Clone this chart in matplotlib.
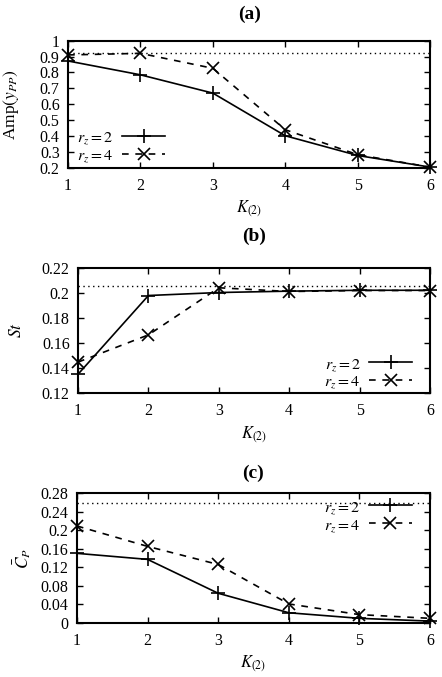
import matplotlib
matplotlib.use('Agg')
import matplotlib.pyplot as plt
from matplotlib.ticker import FormatStrFormatter, MultipleLocator

plt.rcParams['font.family'] = ['Liberation Serif', 'DejaVu Serif']
plt.rcParams['mathtext.fontset'] = 'stix'
plt.rcParams['font.size'] = 11.5

# DATA
k = [1, 2, 3, 4, 5, 6]

amp_rz2 = [0.872, 0.785, 0.670, 0.402, 0.278, 0.205]
amp_rz4 = [0.910, 0.920, 0.826, 0.440, 0.283, 0.205]
amp_ref = 0.925

st_rz2 = [0.135, 0.198, 0.2004, 0.2015, 0.2022, 0.2022]
st_rz4 = [0.1447, 0.1665, 0.2042, 0.2012, 0.2020, 0.2020]
st_ref = 0.2053

cp_rz2 = [0.150, 0.137, 0.064, 0.022, 0.010, 0.004]
cp_rz4 = [0.209, 0.165, 0.126, 0.041, 0.018, 0.010]
cp_ref = 0.258

titles = ['(a)', '(b)', '(c)']
ylabels = [r'Amp$(y_{PP})$', r'$St$', r'$\bar{C}_P$']
legend_labels = [r'$r_z = 2$', r'$r_z = 4$']


def panel(ax, y2, y4, ref, ylim, ystep, title, title_y, ylabel, legloc, legpos):
    ax.plot(k, y2, color='black', lw=1.2, marker='+', ms=10, mew=1.2,
            clip_on=False, zorder=3, label=legend_labels[0])
    ax.plot(k, y4, color='black', lw=1.2, ls=(0, (4, 4)), marker='x', ms=9,
            mew=1.2, clip_on=False, zorder=3, label=legend_labels[1])
    ax.axhline(ref, color='black', lw=1.0, ls=(0, (1, 2.5)), zorder=2)
    ax.set_xlim(1, 6)
    ax.set_ylim(*ylim)
    ax.xaxis.set_major_locator(MultipleLocator(1))
    ax.yaxis.set_major_locator(MultipleLocator(ystep))
    ax.yaxis.set_major_formatter(FormatStrFormatter('%g'))
    ax.tick_params(direction='in', top=True, right=True, length=4, width=1,
                   labelsize=11.5)
    ax.tick_params(axis='y', pad=6)
    ax.tick_params(axis='x', pad=7)
    for s in ax.spines.values():
        s.set_linewidth(1.5)
    ax.text(0.5, title_y, title, transform=ax.transAxes, ha='center',
            va='center', fontweight='bold', fontsize=14)
    ax.set_xlabel(r'$K_{(2)}$', fontsize=12, labelpad=4)
    ax.set_ylabel(ylabel, fontsize=12.5)
    ax.legend(loc=legloc, bbox_to_anchor=legpos, frameon=False,
              markerfirst=False, handlelength=2.7, handletextpad=0.5,
              labelspacing=0.08, borderaxespad=0, borderpad=0, fontsize=11.5)


def main():
    fig = plt.figure(figsize=(4.42, 6.77), dpi=100)
    ax1 = fig.add_axes([0.154, 0.752, 0.819, 0.188])
    ax2 = fig.add_axes([0.1765, 0.4195, 0.7965, 0.1846])
    ax3 = fig.add_axes([0.174, 0.0798, 0.799, 0.192])

    panel(ax1, amp_rz2, amp_rz4, amp_ref, (0.2, 1.0), 0.1,
          titles[0], 1.21, ylabels[0], 'lower right', (0.268, 0.03))
    panel(ax2, st_rz2, st_rz4, st_ref, (0.12, 0.22), 0.02,
          titles[1], 1.25, ylabels[1], 'lower right', (0.949, 0.02))
    panel(ax3, cp_rz2, cp_rz4, cp_ref, (0.0, 0.28), 0.04,
          titles[2], 1.15, ylabels[2], 'upper right', (0.949, 0.955))

    ax1.yaxis.set_label_coords(-0.13, 0.5)
    ax2.yaxis.set_label_coords(-0.15, 0.5)
    ax3.yaxis.set_label_coords(-0.125, 0.5)

    fig.savefig('out.png', dpi=100)


if __name__ == "__main__":
    main()
